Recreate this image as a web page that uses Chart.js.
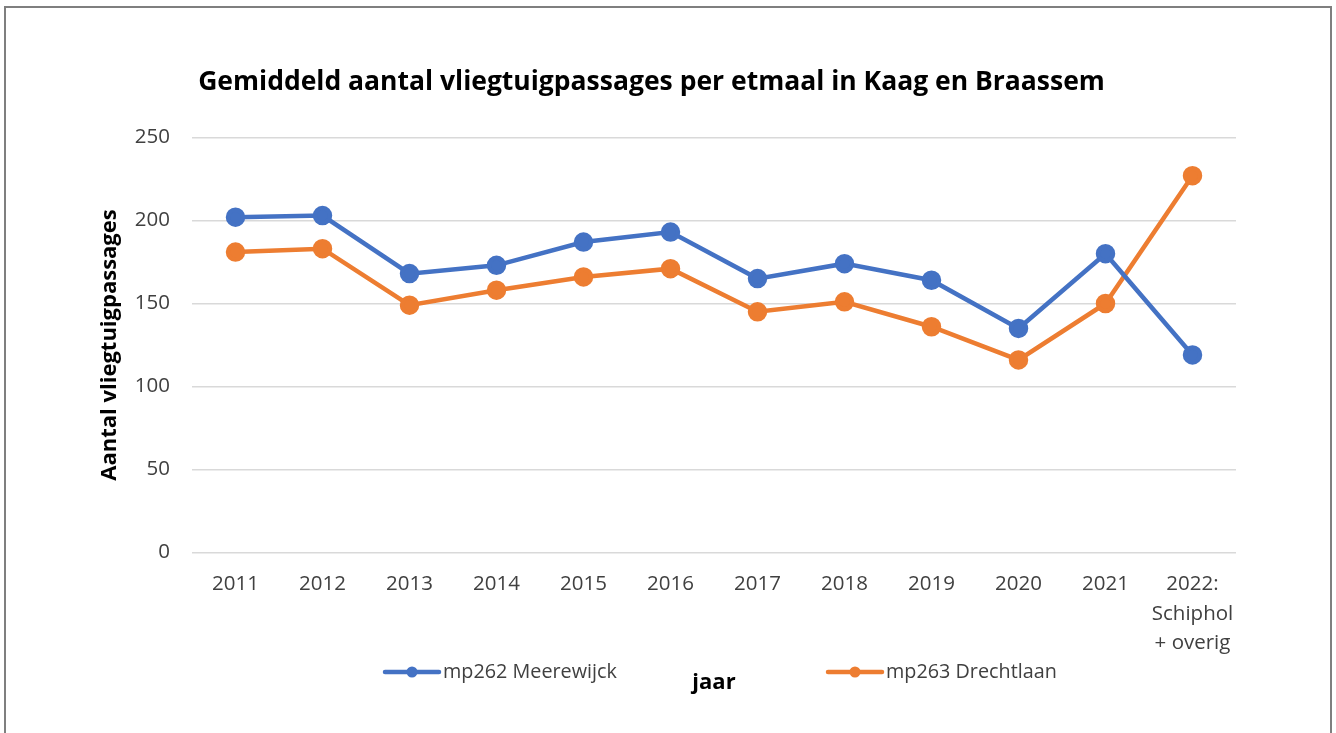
<!DOCTYPE html>
<html>
<head>
<meta charset="utf-8">
<script src="https://cdn.jsdelivr.net/npm/chart.js"></script>
<style>
  body { margin: 0; background: #fff; overflow: hidden; }
  #wrap { position: absolute; left: 0; top: 0; width: 1336px; height: 733px; }
  #frame { position: absolute; left: 4px; top: 6px; width: 1328px; height: 800px;
           box-sizing: border-box; border: 2px solid #7f7f7f; pointer-events: none; }
</style>
</head>
<body>
<div id="wrap"><canvas id="passages"></canvas></div>
<div id="frame"></div>
<script>
// Gemiddeld aantal vliegtuigpassages per etmaal

const years = ['2011', '2012', '2013', '2014', '2015', '2016', '2017', '2018', '2019', '2020', '2021',
  ['2022:', 'Schiphol', '+ overig']];
const meerewijck = [202, 203, 168, 173, 187, 193, 165, 174, 164, 135, 180, 119];
const drechtlaan = [181, 183, 149, 158, 166, 171, 145, 151, 136, 116, 150, 227];
const yTicks = [0, 50, 100, 150, 200, 250];

const blue = '#4472c4';
const orange = '#ed7d31';
const fontFam = '"Open Sans", "Noto Sans", sans-serif';

// legend drawn by hand, the two items sit left and right of the axis title
const sideLegend = {
  id: 'sideLegend',
  afterDraw(chart) {
    const ctx = chart.ctx;
    const spots = [385, 828];
    ctx.save();
    chart.data.datasets.forEach((ds, i) => {
      const x = spots[i];
      const y = 672;
      ctx.strokeStyle = ds.borderColor;
      ctx.lineWidth = 4.5;
      ctx.lineCap = 'round';
      ctx.beginPath();
      ctx.moveTo(x, y);
      ctx.lineTo(x + 54, y);
      ctx.stroke();
      ctx.fillStyle = ds.borderColor;
      ctx.beginPath();
      ctx.arc(x + 27, y, 5.5, 0, Math.PI * 2);
      ctx.fill();
      ctx.fillStyle = '#404040';
      ctx.font = '19.8px ' + fontFam;
      ctx.textBaseline = 'middle';
      ctx.fillText(ds.label, x + 58, y);
    });
    ctx.restore();
  }
};

var ctx = document.getElementById('passages').getContext('2d');
var chart = new Chart(ctx, {
  type: 'line',
  data: {
    labels: years,
    datasets: [{
      label: 'mp262 Meerewijck',
      data: meerewijck,
      borderColor: blue,
      backgroundColor: blue,
      borderWidth: 4.5,
      pointRadius: 7.5,
      pointHoverRadius: 7.5,
      tension: 0
    }, {
      label: 'mp263 Drechtlaan',
      data: drechtlaan,
      borderColor: orange,
      backgroundColor: orange,
      borderWidth: 4.5,
      pointRadius: 7.5,
      pointHoverRadius: 7.5,
      tension: 0
    }]
  },
  options: {
    responsive: true,
    maintainAspectRatio: false,
    animation: false,
    // left padding kept small so the title centres where the original does
    layout: { padding: { left: 67, right: 100, top: 0, bottom: 38 } },
    plugins: {
      legend: { display: false },
      tooltip: { enabled: false },
      title: {
        display: true,
        text: 'Gemiddeld aantal vliegtuigpassages per etmaal in Kaag en Braassem',
        color: '#000',
        font: { family: fontFam, size: 26.5, weight: 'bold', lineHeight: 1.2 },
        padding: { top: 66.5, bottom: 39.2 }
      }
    },
    scales: {
      x: {
        offset: true,
        grid: { display: false, drawTicks: false },
        border: { display: false },
        ticks: {
          color: '#404040',
          padding: 17,
          maxRotation: 0,
          autoSkip: false,
          font: { family: fontFam, size: 20.5, lineHeight: 1.44 }
        },
        title: {
          display: true,
          text: 'jaar',
          color: '#000',
          padding: 0,
          font: { family: fontFam, size: 22, weight: 'bold', lineHeight: 1.1 }
        },
        afterFit(scale) { scale.height = 142.5; }
      },
      y: {
        min: 0,
        max: 250,
        grid: { color: '#d9d9d9', lineWidth: 1.5, drawTicks: false },
        border: { display: false },
        afterBuildTicks(scale) { scale.ticks = yTicks.map(v => ({ value: v })); },
        ticks: {
          color: '#404040',
          padding: 22,
          font: { family: fontFam, size: 20.5 }
        },
        title: {
          display: true,
          text: 'Aantal vliegtuigpassages',
          color: '#000',
          padding: { top: 30, bottom: 0 },
          font: { family: fontFam, size: 22, weight: 'bold', lineHeight: 1.2 }
        },
        afterFit(scale) { scale.width = 125; }
      }
    }
  },
  plugins: [sideLegend]
});
</script>
</body>
</html>
